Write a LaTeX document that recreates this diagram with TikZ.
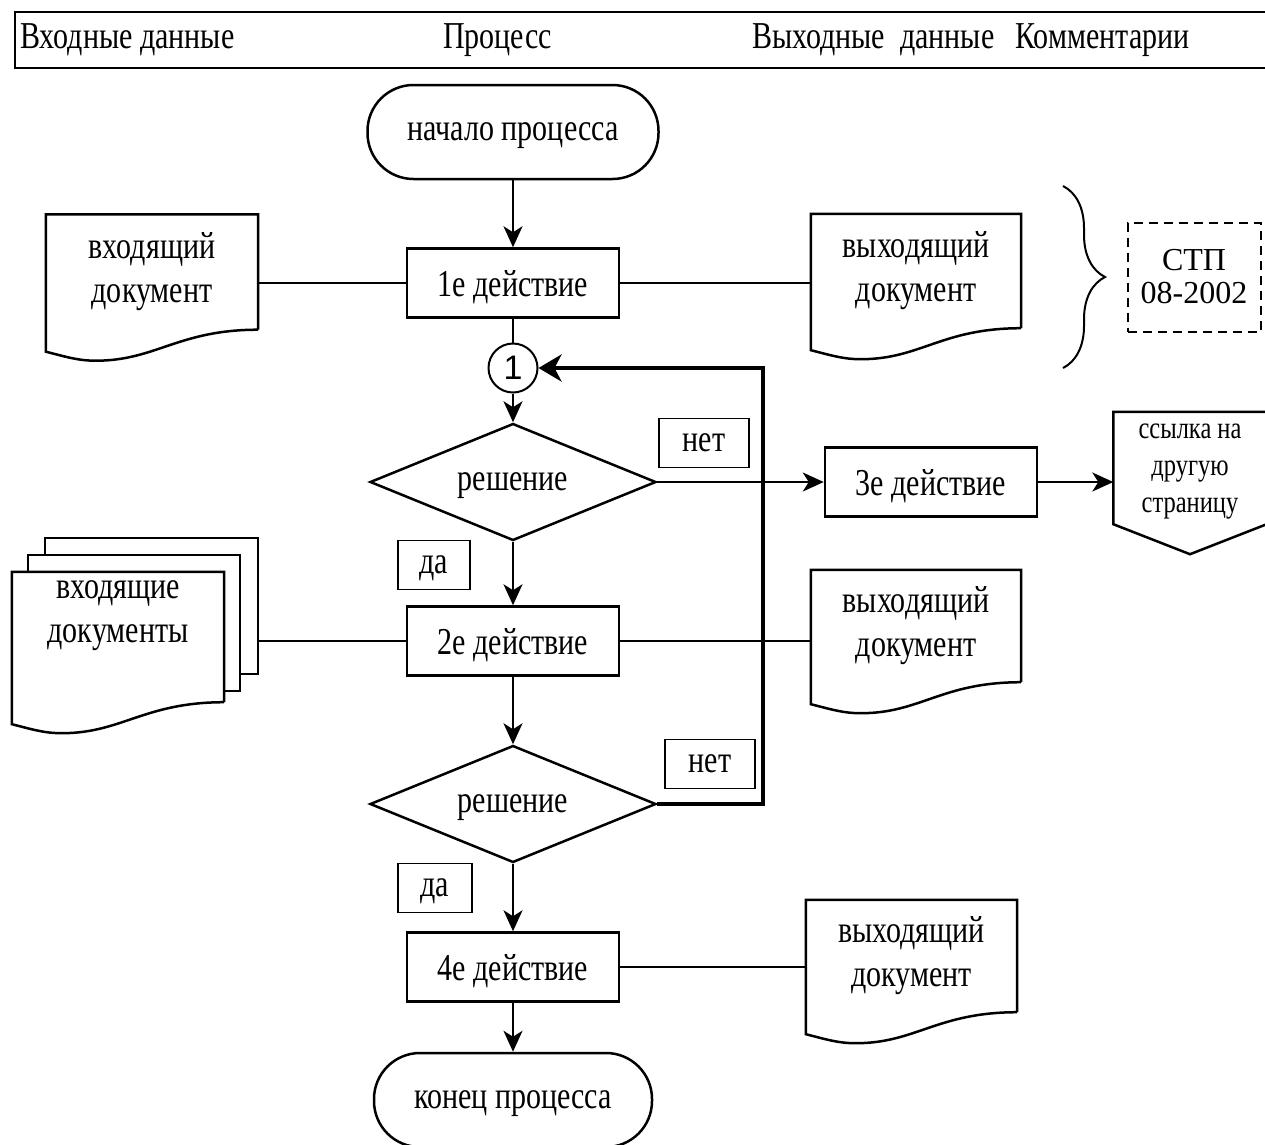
\documentclass[tikz,border=0pt]{standalone}
\usepackage{fontspec}
\setmainfont[FakeStretch=0.79]{Liberation Serif}
\newfontfamily\plainserif{Liberation Serif}
\newfontfamily\arialfont{Liberation Sans}
\usetikzlibrary{arrows.meta,shapes.geometric,decorations.pathreplacing,calc}

\tikzset{
	frame/.style={line width=2.5pt, line join=miter},
	txt/.style={font=\fontsize{38}{44}\selectfont, align=center, inner sep=0pt},
	onerow/.style={txt, text depth=0pt},
	proc/.style={onerow, draw, frame, minimum width=212pt, minimum height=69pt},
	term/.style={onerow, draw, frame, rounded corners=46pt, minimum width=291pt, minimum height=94pt},
	decide/.style={onerow, draw, frame, diamond, aspect=2.45, minimum width=286pt, minimum height=117pt},
	tag/.style={onerow, draw, line width=1.5pt, minimum width=90pt, minimum height=49pt},
	docu/.style={txt, font=\fontsize{38}{44}\selectfont},
	flow/.style={line width=2pt, -{Stealth[length=21pt, width=19pt, inset=6pt]}},
	link/.style={line width=2pt},
	back/.style={line width=4.5pt, -{Stealth[length=23pt, width=27pt, inset=7pt]}}
}

% document sheet with a wavy lower edge
\newcommand{\docframe}[2][]{%
	\draw[frame, #1] (#2.south east) -- (#2.north east) -- (#2.north west) -- ($(#2.south west)+(0,22)$)
		.. controls +(20,5) and +(-18,0) .. ($(#2.south west)+(50,31)$)
		.. controls +(60,0) and +(-80,0) .. (#2.south east);}

\begin{document}
\begin{tikzpicture}[x=1pt, y=-1pt]
	\useasboundingbox (0,0) rectangle (1265,1144);

	%Header
	\draw[frame] (15,12) rectangle (1272,68);
	\node[txt, anchor=west] (hIn) at (20,40) {Входные данные};
	\node[txt, anchor=west] (hProc) at (443,40) {Процесс};
	\node[txt, anchor=west] (hOut) at (752,40) {Выходные\ \ данные};
	\node[txt, anchor=west] (hNote) at (1015,40) {Комментарии};

	%Process column
	\node[term] (start) at (513,132) {начало процесса};
	\node[proc] (act1) at (513,283) {1е действие};
	\node[circle, draw, line width=2pt, minimum size=49pt, inner sep=0pt, font=\arialfont\fontsize{34}{34}\selectfont] (c1) at (513,368) {1};
	\node[decide] (dec1) at (513,482) {решение};
	\node[proc] (act2) at (513,641) {2е действие};
	\node[decide] (dec2) at (513,804) {решение};
	\node[proc] (act4) at (513,967) {4е действие};
	\node[term, minimum width=278pt] (stop) at (513,1100) {конец процесса};

	%Side branch
	\node[proc] (act3) at (931,482) {3е действие};
	\node[txt, font=\fontsize{31}{37}\selectfont, text depth=0pt, minimum width=153pt, minimum height=112pt] (ref) at (1190,468) {ссылка на\\другую\\страницу};
	\draw[frame] (ref.north west) -- (ref.north east) -- (ref.south east) -- ($(ref.south)+(0,30)$) -- (ref.south west) -- cycle;

	%Yes / no tags
	\node[tag] (no1) at (704,443) {нет};
	\node[tag] (no2) at (710,764) {нет};
	\node[tag, minimum width=72pt] (yes1) at (434,565) {да};
	\node[tag, minimum width=74pt] (yes2) at (435,888) {да};

	%Input documents
	\node[docu, minimum width=212pt, minimum height=115pt] (inDoc) at (152,272) {входящий\\документ};
	\docframe{inDoc}
	\node[minimum width=213pt, minimum height=136pt, inner sep=0pt] (inDocsC) at (151.5,606) {};
	\draw[frame, fill=white] (inDocsC.north west) rectangle (inDocsC.south east);
	\node[minimum width=212pt, minimum height=136pt, inner sep=0pt] (inDocsB) at (134,623) {};
	\draw[frame, fill=white] (inDocsB.north west) rectangle (inDocsB.south east);
	\node[minimum width=212pt, minimum height=130pt, inner sep=0pt] (inDocsA) at (118,637) {};
	\docframe[fill=white]{inDocsA}
	\node[docu] (inDocsTxt) at ($(inDocsA)+(0,-21)$) {входящие\\документы};

	%Output documents
	\node[docu, minimum width=210pt, minimum height=114pt] (outDoc1) at (916,271) {выходящий\\документ};
	\docframe{outDoc1}
	\node[docu, minimum width=210pt, minimum height=112pt] (outDoc2) at (916,626) {выходящий\\документ};
	\docframe{outDoc2}
	\node[docu, minimum width=211pt, minimum height=112pt] (outDoc3) at (911.5,956) {выходящий\\документ};
	\docframe{outDoc3}

	%Comment
	\draw[line width=2pt, decorate, decoration={brace, amplitude=42pt}] (1063,186) -- (1063,368);
	\node[txt, draw, line width=2pt, dash pattern=on 9pt off 6pt, minimum width=133pt, minimum height=109pt, font=\plainserif\fontsize{32}{33}\selectfont] (stp) at (1194,277) {СТП\\08-2002};

	%Connectors
	\coordinate (turn) at (763,368);
	\draw[back] (dec2.east) -| (turn) -- (c1.east);
	\draw[flow] (start) -- (act1);
	\draw[link] (act1) -- (c1);
	\draw[flow] (c1) -- (dec1);
	\draw[flow] (dec1) -- (act2);
	\draw[flow] (act2) -- (dec2);
	\draw[flow] (dec2) -- (act4);
	\draw[flow] (act4) -- (stop);
	\draw[flow] (dec1.east) -- (act3.west);
	\draw[flow] (act3.east) -- (act3.east -| ref.west);
	\draw[link] (act1.west) -- (act1.west -| inDoc.east);
	\draw[link] (act1.east) -- (act1.east -| outDoc1.west);
	\draw[link] (act2.west) -- (act2.west -| inDocsC.east);
	\draw[link] (act2.east) -- (act2.east -| outDoc2.west);
	\draw[link] (act4.east) -- (act4.east -| outDoc3.west);

\end{tikzpicture}
\end{document}
